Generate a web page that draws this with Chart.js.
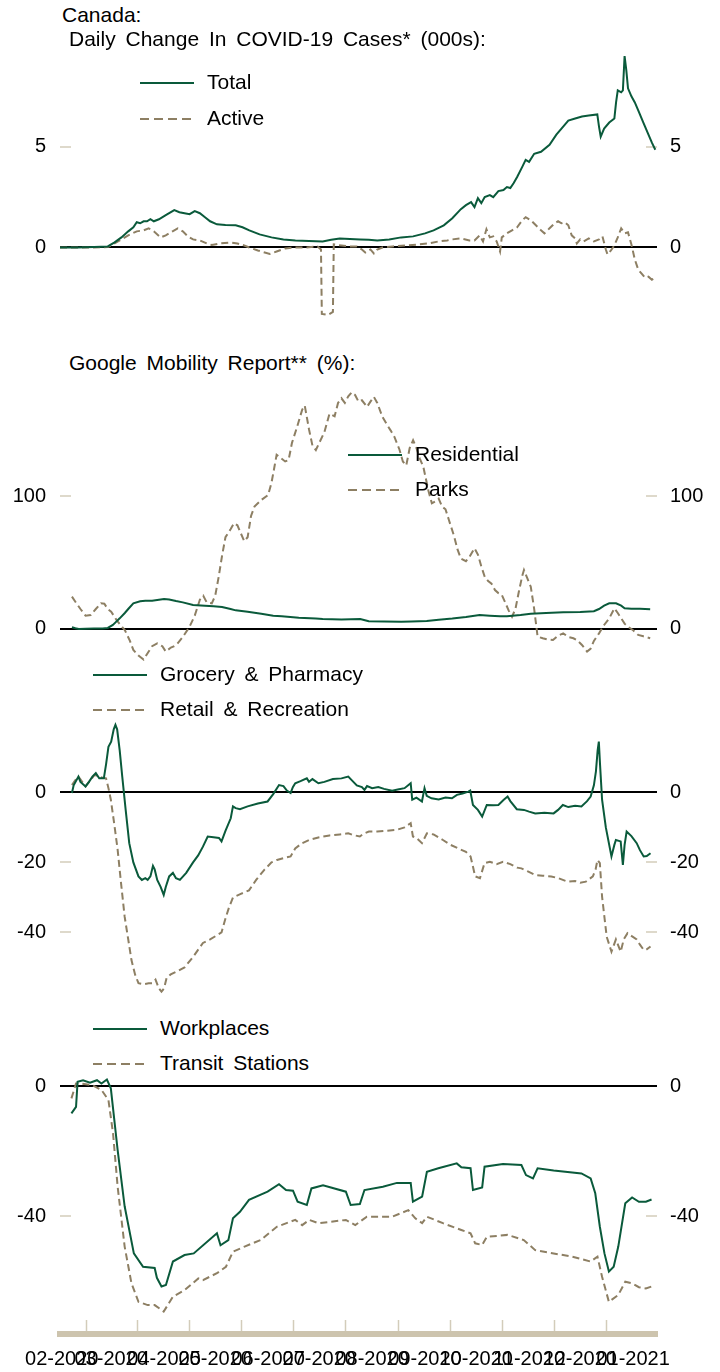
<!DOCTYPE html>
<html><head><meta charset="utf-8">
<script src="https://cdn.jsdelivr.net/npm/chart.js@4.4.1/dist/chart.umd.min.js"></script>
<style>
html,body{margin:0;padding:0;background:#fff;}
#page{position:relative;width:720px;height:1372px;overflow:hidden;font-family:'Liberation Sans',Arial,sans-serif;color:#000;background:#fff;}
canvas{position:absolute;left:0;}
.txt{position:absolute;font-size:21px;line-height:24px;white-space:nowrap;word-spacing:4px;}
.leg{position:absolute;height:24px;white-space:nowrap;font-size:21px;line-height:24px;word-spacing:4px;}
.leg svg{position:absolute;left:0;top:11px;}
.leg span{position:absolute;}
</style></head><body><div id="page">
<canvas id="c1" width="720" height="270" style="top:50px"></canvas>
<canvas id="c2" width="720" height="280" style="top:385px"></canvas>
<canvas id="c3" width="720" height="285" style="top:715px"></canvas>
<canvas id="c4" width="720" height="297" style="top:1075px"></canvas>
<div id="overlay"></div>
</div>
<script>
// x values: days since 2020-02-15
const monthLabels = ['02-2020','03-2020','04-2020','05-2020','06-2020','07-2020','08-2020','09-2020','10-2020','11-2020','12-2020','01-2021'];
const casesTicks = [0, 5];
const parksTicks = [0, 100];
const groceryTicks = [0, -20, -40];
const workTicks = [0, -40];

// Daily change in COVID-19 cases (000s)
const totalDays = [0,10,20,28,32,36,40,43,45,47,49,51,53,55,58,62,65,67,70,73,76,79,82,85,88,92,97,103,107,111,117,124,131,138,146,154,159,164,170,176,181,186,193,200,207,214,219,225,230,235,238,241,243,245,247,249,252,254,257,260,262,264,266,268,271,273,275,278,282,287,291,294,298,302,306,310,315,316,317,319,322,325,326,327,329,330,331,332,333,335,337,339,342,345,347,349];
const totalVals = [0,0,0.02,0.05,0.25,0.5,0.8,1.0,1.25,1.2,1.3,1.3,1.4,1.3,1.4,1.6,1.75,1.85,1.75,1.7,1.65,1.8,1.7,1.5,1.3,1.15,1.12,1.1,1.0,0.85,0.65,0.5,0.4,0.35,0.32,0.3,0.38,0.45,0.42,0.4,0.38,0.35,0.4,0.5,0.55,0.7,0.85,1.1,1.45,1.9,2.1,2.25,2.0,2.45,2.2,2.5,2.6,2.5,2.8,2.85,3.0,2.95,3.2,3.5,4.0,4.35,4.25,4.65,4.75,5.1,5.6,5.9,6.3,6.4,6.5,6.55,6.6,6.0,5.5,5.9,6.2,6.4,7.2,7.8,7.7,7.8,9.5,8.8,7.9,7.5,7.2,6.8,6.2,5.6,5.2,4.85];
const activeDays = [0,10,20,28,32,36,40,45,49,52,55,59,62,66,69,72,75,78,82,86,89,94,100,104,108,111,116,120,123,127,132,138,144,151,153,153.5,157,160,160.5,165,170,174,177,179,182,184,186,189,195,203,210,216,222,227,230,235,240,243,246,248,250,252,254,256,258,259,262,265,268,271,273,276,279,282,284,287,290,292,294,296,298,300,302,303,305,307,310,313,316,318,320,321,323,325,327,329,331,333,335,337,339,341,343,345,347,349];
const activeVals = [0,0,0,0.02,0.2,0.4,0.6,0.8,0.85,0.95,0.8,0.5,0.6,0.8,0.95,0.8,0.55,0.4,0.35,0.2,0.12,0.2,0.25,0.2,0.1,0.0,-0.15,-0.25,-0.32,-0.2,-0.05,0.0,0.0,0.05,-0.1,-3.3,-3.35,-3.2,0.15,0.1,0.05,0.05,-0.1,-0.25,-0.1,-0.3,-0.1,0.0,0.05,0.1,0.15,0.2,0.3,0.35,0.4,0.45,0.35,0.35,0.6,0.3,0.9,0.5,0.55,0.3,-0.2,0.5,0.7,0.85,1.0,1.35,1.5,1.35,1.1,0.85,0.7,0.95,1.2,1.3,1.2,1.25,1.1,0.6,0.45,0.2,0.4,0.3,0.45,0.3,0.4,0.55,-0.1,-0.35,-0.15,0.1,0.5,0.95,0.7,0.75,0.15,-0.6,-1.1,-1.3,-1.5,-1.45,-1.6,-1.5];

// Google mobility (%)
const residentialDays = [7,9,11,15,20,25,28,31,33,35,38,40,43,47,50,54,58,61,64,68,72,78,85,90,95,100,103,110,118,125,130,140,150,154,165,176,181,190,200,206,215,222,230,238,246,252,258,262,270,276,285,295,305,313,316,319,322,326,329,331,335,340,346];
const residentialVals = [1.3,0.5,0,0.2,0.4,0.4,0.8,3,5.5,8,12,15,19.3,20.8,21.2,21.2,22,22.5,22.2,21,20,18,17.5,17,16.5,15,14,13,11.5,10,9.5,8.5,7.8,7.5,7.2,7.5,5.8,5.6,5.5,5.7,6,7,7.8,9,10.5,10,9.6,9.5,10.5,11.5,12,12.5,12.8,13.3,15,17.5,19.3,19.3,17.5,15.5,15.3,15.2,14.8];
const parksDays = [7,9,12,15,18,21,24,26,28,30,33,36,38,41,43,46,49,52,54,57,60,62,65,67,69,72,76,79,82,84,86,89,91,93,95,97,100,102,104,106,108,110,112,114,118,122,124,127,130,132,134,136,139,142,143.5,146,148,150,152,155,158,161,163,165,167,169,171,173,175,177,180,182,184,186,189,192,194,196,199,201,203,205,207,209,211,213,216,218,220,222,224,226,228,231,233,235,238,240,243,245,247,249,251,253,255,257,259,261,263,265,267,269,271,272,274,276,278,280,283,286,289,292,295,298,301,303,306,309,311,313,316,319,322,325,327,329,331,333,336,339,342,346];
const parksVals = [24.3,20.5,15,10,10.5,15,19.3,19,15,13,7,2,-0.8,-9,-15.8,-20,-23,-17,-13,-10.8,-13,-17,-14,-13,-10.8,-6,1.8,10,22,25,20,19.3,25,39,55,69,75,79.5,78,72,66,69,85,92,97,100.8,110,131,128,126,127,140,152,165,168,150,138,134.6,140,148,162,160,170,173.5,170,175,178,176,171,172,167,171,174.6,170,159.6,153,149,144.6,135,126,123,136,142,136,128,122,104,94.5,96,98,92,90,82,70,60,53,51,54,60.7,56,47,39.3,36,34,29.3,27,25.6,20,14,9.2,15,28,40,44.4,38,31.8,15,-5.8,-7,-8,-8.3,-5,-3.3,-6,-7,-8.3,-12,-17,-15,-9,-3.3,3,8,15.5,12,8,4,1.8,-1,-4.5,-5.5,-7];
const groceryDays = [7,8,10.8,12,15,17,19,21,23,25.7,27,28.4,30,31.5,32.5,33.5,35,36.5,38.5,40.6,43,46,48,50,51.4,53,54.5,55.5,57,59,60.8,62,64,66.2,68,70.3,74,78,81,83.8,86.6,90,93.2,94.7,97,100.1,101.4,103,105.5,110,116,121.7,125,128.4,131,133,135.2,136.5,137.9,141,144.7,146,148,151.5,155,160,165,169,171,174,177,178.5,180,183,186.6,190,194.7,198,202,205.6,206.5,209,212.2,213.7,215,217.8,222,226,229.8,232.7,236,239.4,240.5,242.1,245,247.5,250.2,254,257,260,262.4,264,267.8,272,275,278.6,284,289.4,292,294.8,298,302,305.7,309,311.1,313,314.2,315.2,315.9,316.6,317.8,320,323.3,325,325.9,328.7,330,331,332.2,335,338.1,340,342.2,344,346.2];
const groceryVals = [-0.2,2,4.5,3,1.7,3,4.5,5.5,4,4,8,13,14.5,18,19.3,18,12,4.5,-5,-14.5,-20,-24,-25,-24.5,-25,-24,-21,-22,-25,-27,-29.3,-27,-24,-23,-24.5,-25,-23,-20,-18,-15.5,-12.6,-12.8,-13,-14,-11,-7.4,-4,-4.5,-4.8,-4,-3.2,-2.6,-0.5,2.1,1.8,0.5,-0.2,1.5,2.6,3.2,4,3,3.8,2.6,3,3.8,4,4.5,3.5,2,1.5,0.7,1.8,1.2,1.5,1,0.5,0.8,1.2,2.6,-2.1,-1.5,-2.6,1.2,-1,-1.7,-2,-1.5,-1.7,-0.7,-0.3,0.2,0.5,-3.6,-5,-6.9,-3.6,-3.7,-3.6,-2.2,-1.2,-2.5,-4.8,-5,-5.5,-6,-5.8,-6,-5,-3.6,-4.2,-3.8,-4,-2.5,-1.2,2,6,12,14.5,8,-2.1,-10,-18.3,-15,-13.6,-14,-20.7,-15,-11.2,-12.5,-14.5,-16.5,-18.3,-18.2,-17.4];
const retailDays = [7,9,10.8,13,14.9,17,20.3,23,25,27,28.5,29.8,31.8,33.8,35.8,37.9,40,41.9,44,46,49,52,54.1,56,58,59.5,61,62.5,64.9,69,73,78,83.8,88,94.7,97,99,101.4,106,110.8,115,120,124,127.2,131,135.2,137.9,142,146.1,152,158,164,169,172,175.8,178,181.1,186,191,197.5,202,205.6,206.9,209,212.2,215.1,219,224.5,229,235.3,238,240.7,242,243.4,246.2,248.9,252,256,259.7,264,268,270.5,274,278.6,283,288,292.1,297.5,302,305,308.3,312.4,314,315.1,316.5,317.8,320.5,323.3,325.9,328.7,330.5,332.7,335,338.1,340,342.2,344,346.2];
const retailVals = [2.1,3.5,4.5,3,1.7,3,5,4.5,4.2,4,1,-2.1,-9,-16.4,-26,-35.5,-42,-47.9,-52,-54.5,-54.8,-54.5,-54.5,-53.5,-56,-56.9,-56,-53,-52,-51,-50,-47,-43,-42,-40,-36,-33,-30,-29,-28,-25,-22,-20,-19.3,-18.8,-18.3,-16,-14.5,-13.6,-12.8,-12.3,-12,-11.7,-12.2,-12.6,-11.8,-11.2,-11.2,-11,-10.7,-10,-8.8,-12.6,-13,-14.5,-11.7,-12,-13.6,-15,-16.4,-17,-18.3,-21,-24,-24.5,-20.2,-19.8,-20.5,-19.8,-20.5,-21.5,-21.7,-22.5,-23.6,-23.8,-24,-24.5,-25.5,-25.3,-25.8,-25.5,-24,-22,-19.3,-20.2,-29.8,-41.2,-45.5,-42,-45.5,-42,-40.2,-41,-42,-43.5,-45,-44.8,-44];
const workDays = [6.7,9.4,10.3,13.5,17.6,21.7,24.3,27.5,29.8,33.8,37.9,43.3,48.7,55.5,56.8,59.5,62.1,66.2,73,78.4,92,94.1,98.7,101.4,105.5,110.8,121.7,128.4,132.5,136.6,139.3,144.7,147.4,154.2,167.6,170.4,175.8,178.5,189.3,197.5,205.6,206.9,212.3,215.1,221.8,232.6,235.3,240.7,242.1,247.5,248.9,259.7,270.5,273.2,277.3,280,289.4,305.7,311.1,313.8,316.5,319.2,321.8,324.6,327.3,331.4,335.4,339.4,343.5,346.8];
const workVals = [-8.4,-6.4,1.3,1.8,1,1.8,0.8,2,-0.7,-19.7,-37,-51.5,-55.6,-56,-59,-61.7,-61.2,-54,-52,-51.5,-45.3,-49,-47.4,-40.7,-38.7,-35,-32.5,-30.2,-32,-32.2,-35.6,-36.6,-31.5,-30.5,-32.5,-36.6,-36.3,-32,-31,-29.8,-29.8,-35.6,-34,-26.4,-25.3,-23.8,-25,-25.3,-32,-31.2,-24.8,-24,-24.3,-27.4,-28.4,-25.3,-26,-26.9,-28.4,-33,-43.3,-51.5,-57.1,-55.6,-49.4,-36.1,-34.3,-35.6,-35.6,-34.9];
const transitDays = [6.7,9.4,12.2,18.9,24.3,28.4,31.1,33.8,37.9,41.9,46,51.4,55.5,60.8,66.2,73,81.1,83.8,92,97.3,101.4,108.2,117.6,127.1,137.9,142,146.1,151.5,167.6,173.1,179.9,194.7,204.2,208.3,212.3,215.1,224.5,235.3,240.7,243.4,247.5,250.2,262.4,271.9,278.6,289.4,300.1,311.1,315.1,317.8,321.8,327.3,331.4,335.4,339.4,343.5,346.8];
const transitVals = [-3.8,0.8,0.8,0.3,-1.2,-4.3,-14.6,-31,-49.4,-60.7,-66.4,-67.4,-67.4,-69.4,-64.8,-62.8,-59.2,-59.7,-57.6,-55.6,-51,-49.4,-47.4,-43.3,-41.2,-42.8,-41.2,-42.2,-41.2,-42.8,-40.2,-40.2,-38.2,-40.7,-42.2,-40.2,-42.2,-44.3,-45.3,-48.4,-48.9,-46.4,-45.8,-47.4,-50.5,-51.5,-52.5,-54,-52.5,-58.7,-66.4,-64.3,-60.2,-60.7,-61.9,-62.3,-61.7];

const GREEN = '#0a5a3b';
const TAN = '#8d7f63';
const TICKC = '#d3ccba';
const BARC = '#cdc4ae';
const FONT = "'Liberation Sans', Arial, sans-serif";
Chart.defaults.font.family = FONT;

// mid-month tick positions (days since 2020-02-15)
const base = Date.UTC(2020, 1, 15);
const monthTickDays = monthLabels.map(l => {
  const [m, y] = l.split('-').map(Number);
  return (Date.UTC(y, m - 1, 16) - base) / 86400000;
});

function pts(d, v) { return d.map((x, i) => ({x: x, y: v[i]})); }

function yAxis(pos, min, max, ticksArr, isMain) {
  return {
    type: 'linear', position: pos, min: min, max: max,
    afterBuildTicks: s => { s.ticks = ticksArr.map(v => ({value: v})); },
    afterFit: s => { s.width = pos === 'left' ? 60 : 63; s.paddingTop = 0; s.paddingBottom = 0; },
    border: {display: false},
    grid: {
      drawOnChartArea: isMain,
      color: c => (c.tick && c.tick.value === 0) ? '#000' : 'rgba(0,0,0,0)',
      lineWidth: 2,
      drawTicks: true,
      tickLength: -11,
      tickColor: c => (c.tick && c.tick.value === 0) ? 'rgba(0,0,0,0)' : TICKC,
      tickWidth: 1.5
    },
    ticks: {
      color: '#000', font: {size: 20, family: FONT},
      padding: pos === 'left' ? 25 : 24,
      autoSkip: false
    }
  };
}

function makeChart(id, series, min, max, ticksArr, showX) {
  const ds = series.map(s => ({
    label: s.name,
    data: pts(s.days, s.vals),
    borderColor: s.dashed ? TAN : GREEN,
    borderWidth: 2,
    borderDash: s.dashed ? [7, 4] : [],
    pointRadius: 0,
    tension: 0,
    fill: false
  }));
  return new Chart(document.getElementById(id), {
    type: 'line',
    data: {datasets: ds},
    options: {
      responsive: false, animation: false, devicePixelRatio: 1,
      layout: {padding: 0},
      plugins: {legend: {display: false}, tooltip: {enabled: false}},
      scales: {
        x: {
          type: 'linear', min: 0, max: 350, display: showX,
          afterBuildTicks: s => { s.ticks = monthTickDays.map(v => ({value: v})); },
          afterFit: s => { if (showX) { s.height = 38; } s.paddingLeft = 0; s.paddingRight = 0; },
          border: {display: true, color: BARC, width: 6},
          grid: {drawOnChartArea: false, offset: true, drawTicks: true, tickLength: -14, tickColor: TICKC, tickWidth: 1.5},
          ticks: {
            color: '#000', font: {size: 20, family: FONT}, padding: 27,
            autoSkip: false, maxRotation: 0, minRotation: 0,
            callback: (v, i) => monthLabels[i]
          }
        },
        y: yAxis('left', min, max, ticksArr, true),
        y2: yAxis('right', min, max, ticksArr, false)
      }
    }
  });
}

makeChart('c1', [
  {name: 'Total', days: totalDays, vals: totalVals, dashed: false},
  {name: 'Active', days: activeDays, vals: activeVals, dashed: true}
], -3.6, 9.8, casesTicks, false);
makeChart('c2', [
  {name: 'Residential', days: residentialDays, vals: residentialVals, dashed: false},
  {name: 'Parks', days: parksDays, vals: parksVals, dashed: true}
], -27.1, 183.5, parksTicks, false);
makeChart('c3', [
  {name: 'Grocery & Pharmacy', days: groceryDays, vals: groceryVals, dashed: false},
  {name: 'Retail & Recreation', days: retailDays, vals: retailVals, dashed: true}
], -59.3, 22.1, groceryTicks, false);
makeChart('c4', [
  {name: 'Workplaces', days: workDays, vals: workVals, dashed: false},
  {name: 'Transit Stations', days: transitDays, vals: transitVals, dashed: true}
], -76.3, 3.4, workTicks, true);

// Titles and legends (HTML text)
const ov = document.getElementById('overlay');
function addText(t, x, cy) {
  const d = document.createElement('div'); d.className = 'txt';
  d.style.left = x + 'px'; d.style.top = (cy - 12) + 'px'; d.textContent = t; ov.appendChild(d);
}
function addLeg(t, x, cy, dashed) {
  const d = document.createElement('div'); d.className = 'leg';
  d.style.left = x + 'px'; d.style.top = (cy - 12) + 'px';
  d.innerHTML = '<svg width="54" height="4"><line x1="0" y1="2" x2="54" y2="2" stroke="' + (dashed ? TAN : GREEN) +
    '" stroke-width="2.2"' + (dashed ? ' stroke-dasharray="9,5"' : '') + '/></svg>';
  const s = document.createElement('span'); s.style.left = '67px'; s.style.top = '0px'; s.textContent = t; d.appendChild(s);
  ov.appendChild(d);
}
addText('Canada:', 62, 15);
addText('Daily Change In COVID-19 Cases* (000s):', 69, 39);
addText('Google Mobility Report** (%):', 69, 363);
addLeg('Total', 140, 82, false);
addLeg('Active', 140, 118, true);
addLeg('Residential', 348, 454, false);
addLeg('Parks', 348, 489, true);
addLeg('Grocery & Pharmacy', 93, 674, false);
addLeg('Retail & Recreation', 93, 709, true);
addLeg('Workplaces', 93, 1028, false);
addLeg('Transit Stations', 93, 1063, true);
</script>
</body></html>
